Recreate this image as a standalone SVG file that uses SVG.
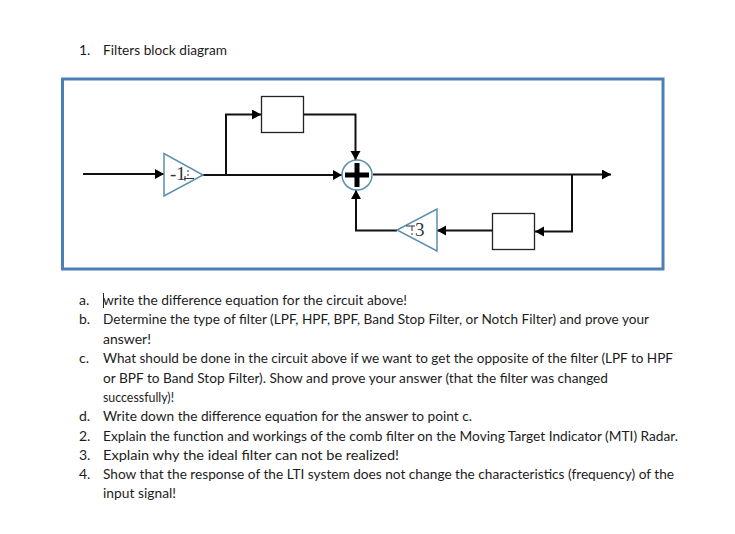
<svg xmlns="http://www.w3.org/2000/svg" width="735" height="534" viewBox="0 0 735 534">
<style>
text{font-family:"Lato","Open Sans","Liberation Sans",sans-serif;font-size:14px;fill:#1c1c1c}
text.g{font-family:"Liberation Serif",serif;font-size:19px;fill:#333}
.w{fill:none;stroke:#111;stroke-width:2}
.b{fill:#fff;stroke:#222;stroke-width:1.300}
.t{fill:#fff;stroke:#5b8fae;stroke-width:1.500}
.m{fill:none;stroke:#333;stroke-width:1}
</style>
<defs><marker id="a" markerUnits="userSpaceOnUse" markerWidth="11" markerHeight="11" refX="9" refY="5" orient="auto"><path d="M0,0L9,5L0,10z" fill="#000"/></marker></defs>
<rect width="735" height="534" fill="#fff"/>
<rect id="frame" x="62.500" y="79" width="600.500" height="190" fill="#fff" stroke="#4a80b5" stroke-width="3"/>
<g id="connectors">
<path class="w" marker-end="url(#a)" d="M83,174H164"/>
<path class="w" marker-end="url(#a)" d="M203,175H342"/>
<path class="w" marker-end="url(#a)" d="M226,175V114.500H261"/>
<path class="w" marker-end="url(#a)" d="M304,114.500H355.500V160"/>
<path class="w" marker-end="url(#a)" d="M373,174.500H611"/>
<path class="w" marker-end="url(#a)" d="M572,174.500V231.500H535"/>
<path class="w" marker-end="url(#a)" d="M492,230.500H437"/>
<path class="w" marker-end="url(#a)" d="M397,230.500H356V190"/>
</g>
<g id="gain1"><path class="t" d="M164,153.500V196L203,175z"/><text class="g" x="170" y="180">-1</text><path class="m" d="M187,171h2M187,175h2M184,178.500h10M185,176v5"/></g>
<g id="delay1"><rect class="b" x="261.500" y="96.500" width="42" height="36"/></g>
<g id="sum"><circle cx="357" cy="175" r="15" fill="#fff" stroke="#5b8fae" stroke-width="1.500"/><path d="M357,163V187M345,175H369" stroke="#000" stroke-width="5" fill="none"/></g>
<g id="delay2"><rect class="b" x="492.500" y="213.500" width="42" height="36"/></g>
<g id="gain2"><path class="t" d="M437,209V251L397,230z"/><text class="g" x="415" y="236">3</text><path class="m" d="M406,226h9M412,226v5M412,233v2"/></g>
<g id="questions">
<text x="79" y="55">1.</text><text x="103" y="55" textLength="124" lengthAdjust="spacingAndGlyphs">Filters block diagram</text>
<text x="79" y="305">a.</text><text x="103" y="305" textLength="304" lengthAdjust="spacingAndGlyphs">write the difference equation for the circuit above!</text>
<path d="M103.500,293V308" stroke="#222" fill="none"/>
<text x="79" y="324">b.</text><text x="103" y="324" textLength="546" lengthAdjust="spacingAndGlyphs">Determine the type of filter (LPF, HPF, BPF, Band Stop Filter, or Notch Filter) and prove your</text>
<text x="103" y="344" textLength="48" lengthAdjust="spacingAndGlyphs">answer!</text>
<text x="79" y="363">c.</text><text x="103" y="363" textLength="570" lengthAdjust="spacingAndGlyphs">What should be done in the circuit above if we want to get the opposite of the filter (LPF to HPF</text>
<text x="103" y="383" textLength="505" lengthAdjust="spacingAndGlyphs">or BPF to Band Stop Filter). Show and prove your answer (that the filter was changed</text>
<text x="103" y="402" textLength="71" lengthAdjust="spacingAndGlyphs">successfully)!</text>
<text x="79" y="421">d.</text><text x="103" y="421" textLength="369" lengthAdjust="spacingAndGlyphs">Write down the difference equation for the answer to point c.</text>
<text x="79" y="441">2.</text><text x="103" y="441" textLength="575" lengthAdjust="spacingAndGlyphs">Explain the function and workings of the comb filter on the Moving Target Indicator (MTI) Radar.</text>
<text x="79" y="460">3.</text><text x="103" y="460" textLength="296" lengthAdjust="spacingAndGlyphs">Explain why the ideal filter can not be realized!</text>
<text x="79" y="479">4.</text><text x="103" y="479" textLength="571" lengthAdjust="spacingAndGlyphs">Show that the response of the LTI system does not change the characteristics (frequency) of the</text>
<text x="103" y="498" textLength="73" lengthAdjust="spacingAndGlyphs">input signal!</text>
</g>
</svg>
